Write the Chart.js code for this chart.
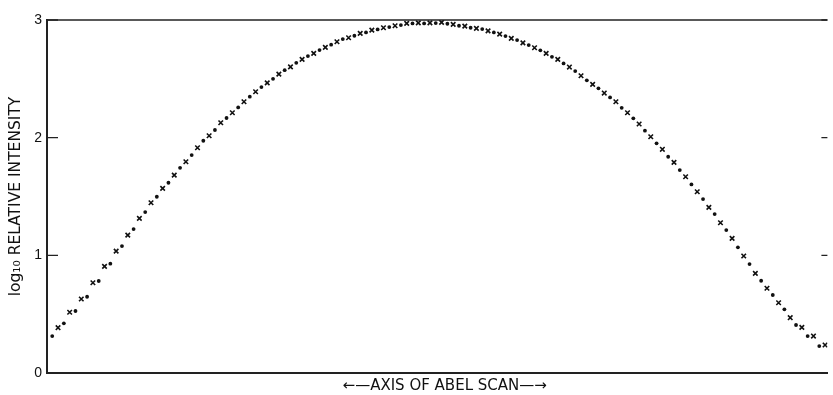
<!DOCTYPE html>
<html><head><meta charset="utf-8">
<script src="https://cdn.jsdelivr.net/npm/chart.js@4"></script>
<style>html,body{margin:0;padding:0;background:#fff}#wrap{width:833px;height:395px;position:relative}</style>
</head><body><div id="wrap"><canvas id="c"></canvas></div>
<script>
// log10 relative intensity, dots (even scan positions) and crosses (odd scan positions)
const dotValues = [0.314,0.422,0.527,0.648,0.782,0.929,1.079,1.223,1.368,1.498,1.617,1.744,1.852,1.974,2.065,2.167,2.257,2.348,2.430,2.500,2.574,2.636,2.693,2.744,2.790,2.838,2.866,2.894,2.920,2.940,2.957,2.971,2.971,2.974,2.968,2.951,2.934,2.923,2.894,2.863,2.829,2.787,2.742,2.687,2.631,2.566,2.487,2.419,2.342,2.254,2.164,2.059,1.952,1.838,1.725,1.603,1.478,1.351,1.215,1.068,0.926,0.784,0.663,0.541,0.408,0.314,0.229];
const crossValues = [0.385,0.516,0.629,0.767,0.906,1.036,1.172,1.314,1.447,1.569,1.682,1.795,1.914,2.016,2.127,2.212,2.305,2.390,2.466,2.540,2.602,2.665,2.716,2.767,2.815,2.849,2.886,2.914,2.934,2.951,2.971,2.976,2.976,2.980,2.963,2.948,2.929,2.908,2.880,2.844,2.806,2.764,2.716,2.665,2.600,2.526,2.453,2.379,2.305,2.212,2.116,2.008,1.901,1.790,1.668,1.540,1.408,1.277,1.144,0.994,0.847,0.720,0.597,0.470,0.388,0.314,0.238];
const yTicks = [0,1,2,3];
const yTitle = 'log\u2081\u2080 RELATIVE INTENSITY';
const xTitle = '\u2003\u2190\u2014AXIS OF ABEL SCAN\u2014\u2192';

const dotData = dotValues.map((v,i)=>({x:2*i, y:v}));
const crossData = crossValues.map((v,i)=>({x:2*i+1, y:v}));

const frame = {
  id:'frame',
  afterDraw(chart){
    const {ctx, chartArea:a, scales} = chart;
    ctx.save();
    ctx.strokeStyle = '#222';
    ctx.lineWidth = 1.5;
    ctx.beginPath();
    ctx.moveTo(a.left, a.top); ctx.lineTo(a.right, a.top);
    ctx.stroke();
    ctx.lineWidth = 1.3;
    yTicks.forEach(v=>{
      const y = scales.y.getPixelForValue(v);
      ctx.beginPath();
      ctx.moveTo(a.left, y); ctx.lineTo(a.left+11, y);
      ctx.moveTo(a.right, y); ctx.lineTo(a.right-6, y);
      ctx.stroke();
    });
    ctx.restore();
  }
};

new Chart(document.getElementById('c'), {
  type:'scatter',
  data:{datasets:[
    {label:'dots', data:dotData, pointStyle:'circle', pointRadius:1.9, backgroundColor:'#111', borderColor:'#111', borderWidth:0},
    {label:'crosses', data:crossData, pointStyle:'crossRot', pointRadius:3.2, borderColor:'#111', borderWidth:1.6}
  ]},
  options:{
    responsive:true, maintainAspectRatio:false, animation:false,
    layout:{padding:{top:20,right:0,left:0,bottom:0}},
    plugins:{legend:{display:false}, tooltip:{enabled:false}},
    scales:{
      x:{type:'linear', min:-0.9, max:133.4,
        grid:{display:false},
        border:{display:true, color:'#222', width:2},
        ticks:{display:false},
        title:{display:true, text:xTitle, color:'#111', font:{family:'DejaVu Sans, sans-serif', size:15}, padding:{top:4,bottom:0}},
        afterFit(s){ s.height = 22; }
      },
      y:{type:'linear', min:0, max:3,
        grid:{display:false, drawTicks:false},
        border:{display:true, color:'#222', width:2},
        ticks:{stepSize:1, color:'#111', padding:5, font:{family:'Liberation Sans, Arial, sans-serif', size:14}},
        title:{display:true, text:yTitle, color:'#111', font:{family:'DejaVu Sans, sans-serif', size:15.5}, padding:{top:7,bottom:0}},
        afterFit(s){ s.width = 47; }
      }
    }
  },
  plugins:[frame]
});
</script></body></html>
